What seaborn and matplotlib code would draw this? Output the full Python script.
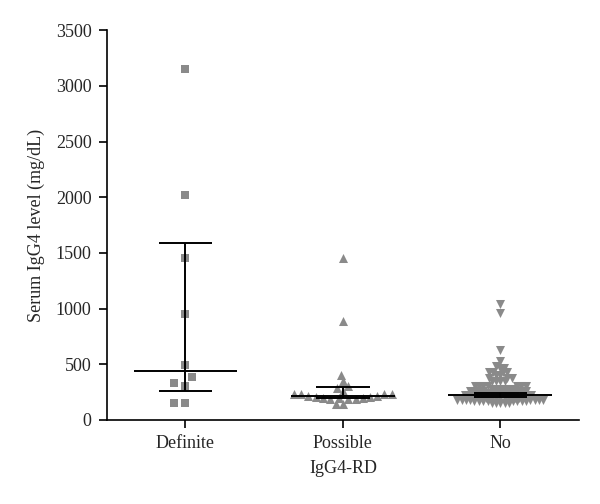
import numpy as np
import pandas as pd
import matplotlib.pyplot as plt
import seaborn as sns

# -------------------------
# Data
# -------------------------

groups = ["Definite", "Possible", "No"]

definite = [3150, 2020, 1450, 950, 495, 385, 330, 300, 155, 155]

possible = [1450, 890, 405, 345, 300, 290, 255, 235, 235, 235, 230, 215,
            210, 205, 205, 200, 200, 200, 185, 185, 185, 145, 145]

no_group = [1040, 960, 630, 530, 480, 465, 465, 430, 430, 430, 430, 400,
            400, 380, 380, 380, 350, 350, 350, 350,
            300, 300, 300, 300, 300, 300, 300,
            280, 280, 280, 280, 280, 280,
            260, 260, 260, 260, 260, 260, 260,
            240, 240, 240, 240, 240, 240, 240,
            220, 220, 220, 220, 220, 220, 220, 220,
            200, 200, 200, 200, 200, 200, 200, 200,
            180, 180, 180, 180, 180, 180, 180, 180,
            165, 165, 165, 165, 165, 165, 165, 165,
            150, 150, 150, 150, 150]

# median with interquartile range
medians = [440, 212, 222]
q1 = [263, 200, 207]
q3 = [1590, 293, 238]

markers = ["s", "^", "v"]
layout_size = [8, 5, 3]      # marker size used to space the swarm
marker_size = [5.5, 6.5, 6.5]

df = pd.DataFrame({
    "group": ["Definite"] * len(definite) + ["Possible"] * len(possible)
             + ["No"] * len(no_group),
    "value": definite + possible + no_group,
})

# -------------------------
# Plot
# -------------------------

sns.set_style("ticks")
plt.rcParams["font.family"] = ["Liberation Serif", "DejaVu Serif"]

fig, ax = plt.subplots(figsize=(6, 5.04), dpi=100)
fig.subplots_adjust(left=0.178, right=0.965, bottom=0.167, top=0.94)

swarms = []
for g, m, s, ms in zip(groups, markers, layout_size, marker_size):
    n_before = len(ax.collections)
    sns.swarmplot(data=df[df["group"] == g], x="group", y="value",
                  order=groups, marker=m, size=s, color="#8a8a8a",
                  linewidth=0, ax=ax)
    for coll in ax.collections[n_before:]:
        swarms.append((coll, ms))

x = np.arange(len(groups))
ax.hlines(medians, x - 0.33, x + 0.33, color="black", lw=1.4, zorder=4)
ax.hlines(q1, x - 0.17, x + 0.17, color="black", lw=1.4, zorder=4)
ax.hlines(q3, x - 0.17, x + 0.17, color="black", lw=1.4, zorder=4)
ax.vlines(x, q1, q3, color="black", lw=1.4, zorder=4)

ax.set_xlim(-0.5, 2.5)
ax.set_ylim(0, 3500)
ax.set_yticks(range(0, 3501, 500))
ax.set_xlabel("IgG4-RD", fontsize=13, labelpad=6)
ax.set_ylabel("Serum IgG4 level (mg/dL)", fontsize=13, labelpad=8)
ax.tick_params(axis="both", labelsize=13, length=6, width=1.2, color="black",
               pad=5)
for side in ["left", "bottom"]:
    ax.spines[side].set_linewidth(1.2)
    ax.spines[side].set_color("black")
sns.despine(ax=ax)

# lay out the swarms, then freeze positions and enlarge markers
# so the dense group overlaps a bit like the original
fig.canvas.draw()
for coll, ms in swarms:
    if "draw" in vars(coll):
        del coll.draw
    coll.set_sizes([ms ** 2])

fig.savefig("out.png", dpi=100)
